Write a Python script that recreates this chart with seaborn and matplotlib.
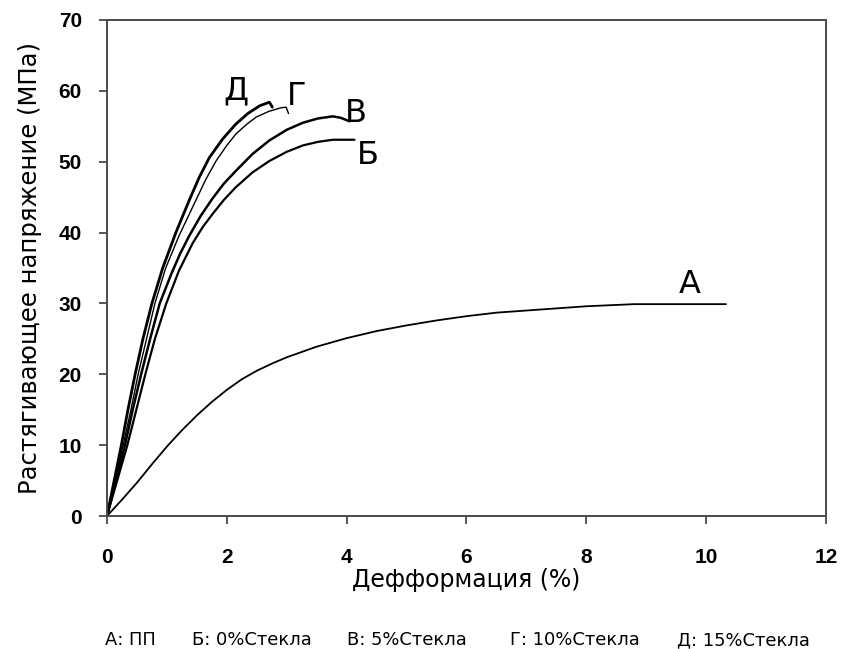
import matplotlib
matplotlib.use("Agg")
import matplotlib.pyplot as plt
import seaborn as sns

# ------------------------------------------------
# DATA
# ------------------------------------------------

a_x = [0, 0.25, 0.5, 0.75, 1.0, 1.25, 1.5, 1.75, 2.0, 2.25, 2.5, 2.75, 3.0, 3.5,
       4.0, 4.5, 5.0, 5.5, 6.0, 6.5, 7.0, 7.5, 8.0, 8.8, 9.5, 10.33]
a_y = [0, 2.3, 4.7, 7.3, 9.8, 12.1, 14.2, 16.1, 17.8, 19.3, 20.5, 21.5, 22.4, 23.9,
       25.1, 26.1, 26.9, 27.6, 28.2, 28.7, 29.0, 29.3, 29.6, 29.9, 29.9, 29.9]

b_x = [0, 0.17, 0.34, 0.49, 0.64, 0.80, 0.99, 1.20, 1.43, 1.60, 1.76, 1.95, 2.15,
       2.43, 2.71, 3.00, 3.27, 3.52, 3.77, 4.13]
b_y = [0, 5, 10, 15, 20, 25, 30, 34.6, 38.5, 40.8, 42.6, 44.6, 46.4,
       48.5, 50.1, 51.4, 52.3, 52.8, 53.1, 53.1]

v_x = [0, 0.15, 0.30, 0.43, 0.57, 0.72, 0.88, 1.08, 1.22, 1.37, 1.56, 1.76, 1.95,
       2.15, 2.43, 2.71, 3.00, 3.27, 3.52, 3.77, 3.90, 4.05]
v_y = [0, 5, 10, 15, 20, 25, 30, 34.3, 37.0, 39.5, 42.3, 44.8, 46.9,
       48.7, 51.1, 53.0, 54.5, 55.5, 56.1, 56.4, 56.2, 55.7]

g_x = [0, 0.13, 0.27, 0.40, 0.52, 0.66, 0.80, 0.98, 1.20, 1.48, 1.65, 1.82, 2.00,
       2.15, 2.32, 2.49, 2.70, 2.90, 2.99, 3.03]
g_y = [0, 5, 10, 15, 20, 25, 30, 35, 39.5, 44.5, 47.5, 50.1, 52.3,
       53.9, 55.2, 56.3, 57.1, 57.6, 57.7, 56.8]

d_x = [0, 0.12, 0.24, 0.35, 0.47, 0.60, 0.75, 0.93, 1.15, 1.37, 1.54, 1.71, 1.93,
       2.15, 2.35, 2.55, 2.71, 2.76]
d_y = [0, 5, 10, 15, 20, 25, 30, 35, 40.0, 44.5, 47.8, 50.6, 53.2,
       55.3, 56.8, 57.9, 58.4, 57.7]

curve_letters = ["А", "Б", "В", "Г", "Д"]
letter_x = [9.73, 4.35, 4.15, 3.16, 2.16]
letter_y = [32.7, 50.9, 56.8, 59.2, 60.0]

legend_items = ["А: ПП", "Б: 0%Стекла", "В: 5%Стекла", "Г: 10%Стекла", "Д: 15%Стекла"]

x_ticks = [0, 2, 4, 6, 8, 10, 12]
y_ticks = [0, 10, 20, 30, 40, 50, 60, 70]

# ------------------------------------------------
# PLOT
# ------------------------------------------------

sns.set_style("ticks")
plt.rcParams["font.family"] = ["DejaVu Sans"]
plt.rcParams["text.color"] = "black"
plt.rcParams["axes.labelcolor"] = "black"

fig = plt.figure(figsize=(8.45, 6.49), dpi=100)
ax = fig.add_axes([0.1266, 0.2049, 0.8509, 0.7643])

series = [
    (a_x, a_y, 1.3),
    (b_x, b_y, 1.6),
    (v_x, v_y, 1.8),
    (g_x, g_y, 1.0),
    (d_x, d_y, 2.0),
]

for xs, ys, lw in series:
    sns.lineplot(x=xs, y=ys, ax=ax, color="black", linewidth=lw,
                 sort=False, estimator=None)

for letter, lx, ly in zip(curve_letters, letter_x, letter_y):
    ax.text(lx, ly, letter, fontsize=23, ha="center", va="center", color="black")

ax.set_xlim(0, 12)
ax.set_ylim(0, 70)
ax.set_xticks(x_ticks)
ax.set_yticks(y_ticks)

for side in ["top", "right", "bottom", "left"]:
    ax.spines[side].set_visible(True)
    ax.spines[side].set_color("#4a4a4a")
    ax.spines[side].set_linewidth(1.4)

ax.tick_params(axis="both", direction="out", length=6, width=1.3,
               color="#4a4a4a", labelcolor="black")
ax.tick_params(axis="x", pad=17)
ax.tick_params(axis="y", pad=12)

for lbl in ax.get_xticklabels() + ax.get_yticklabels():
    lbl.set_fontfamily("Liberation Sans")
    lbl.set_fontweight("bold")
    lbl.set_fontsize(15)

ax.set_xlabel("Дефформация (%)", fontsize=17, labelpad=1)
ax.set_ylabel("Растягивающее напряжение (МПа)", fontsize=17.5, labelpad=12)

legend_px = [105, 192, 347, 510, 677]
for item, px in zip(legend_items, legend_px):
    fig.text(px / 845, 1 - 640 / 649, item, fontsize=12.9, ha="left", va="center")

fig.savefig("out.png", dpi=100)
